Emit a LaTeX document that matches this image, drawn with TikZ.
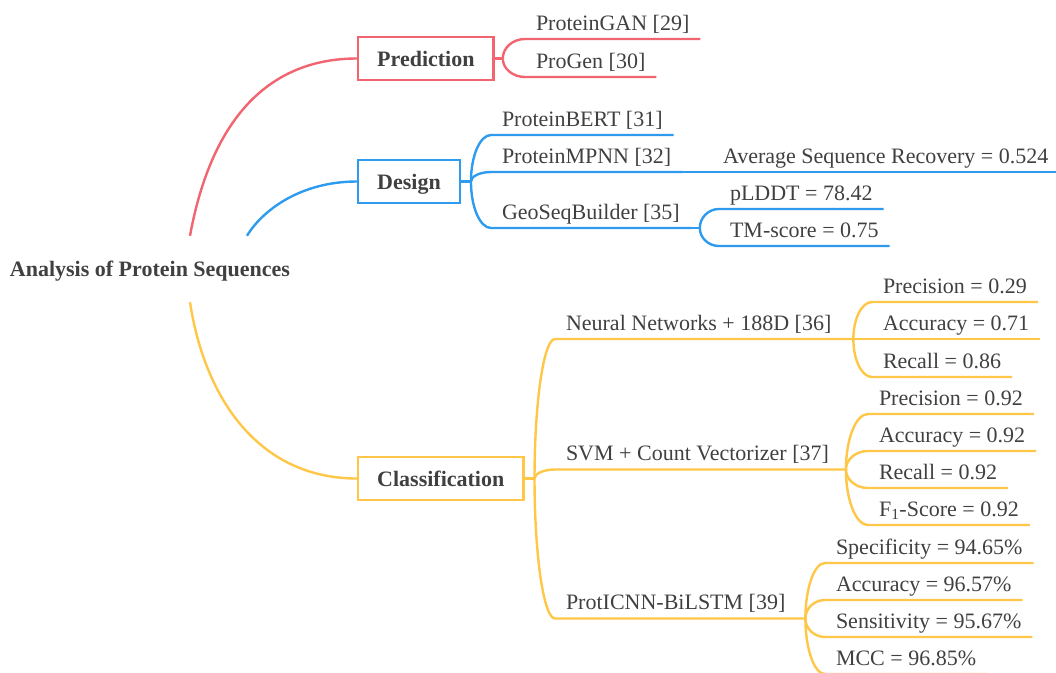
\documentclass[tikz,border=0pt]{standalone}
\usepackage{fontspec}
\setmainfont{Liberation Serif}
\usetikzlibrary{calc}
\definecolor{predcol}{HTML}{F2646F}
\definecolor{descol}{HTML}{2E9BEF}
\definecolor{clscol}{HTML}{FFC747}
\definecolor{txtcol}{HTML}{404040}

\tikzset{
  box/.style={draw, line width=2.4pt, fill=white, text=txtcol,
    font=\fontsize{22}{26}\selectfont\bfseries,
    text height=15pt, text depth=0pt, minimum height=43pt, inner xsep=19pt, anchor=west},
  leaf/.style={text=txtcol, font=\fontsize{22}{26}\selectfont,
    text height=16pt, text depth=5pt, inner xsep=11pt, inner ysep=4pt, outer sep=0pt, anchor=south west},
  branch/.style={line width=2.4pt},
  twig/.style={to path={.. controls ($(\tikztostart)!.55!(\tikztostart |- \tikztotarget)$)
    and ($(\tikztotarget)!.55!(\tikztostart |- \tikztotarget)$) .. (\tikztotarget) \tikztonodes}}
}

\begin{document}
\begin{tikzpicture}[x=1pt,y=-1pt]
\useasboundingbox (0,0) rectangle (1056,672);

% root and main branches
\node (root) [text=txtcol, font=\fontsize{22}{26}\selectfont\bfseries, text height=14pt, text depth=0pt, minimum height=66pt] at (150,269) {Analysis of Protein Sequences};
\node (pred) [box, draw=predcol] at (357,58.5) {Prediction};
\node (des) [box, draw=descol] at (357,181.5) {Design};
\node (cls) [box, draw=clscol] at (357,478.5) {Classification};

\draw[branch,predcol] ([xshift=40pt]root.north) .. controls +(22,-120) and +(-86,0) .. (pred.west);
\draw[branch,descol] ([xshift=97pt]root.north) .. controls +(15,-25) and +(-57,0) .. (des.west);
\draw[branch,clscol] ([xshift=40pt]root.south) .. controls +(15,98) and +(-97,0) .. (cls.west);

% prediction
\node (gan) [leaf] at (525,39) {ProteinGAN [29]};
\node (progen) [leaf] at (525,77) {ProGen [30]};
\coordinate (pj) at ([xshift=8pt]pred.east);
\draw[branch,predcol] (pred.east) -- (pj);
\foreach \n in {gan,progen}
  \draw[branch,predcol] (pj) to[twig] (\n.south west) -- (\n.south east);

% design
\node (bert) [leaf] at (491,135) {ProteinBERT [31]};
\node (mpnn) [leaf] at (491,172) {ProteinMPNN [32]};
\node (geo) [leaf] at (491,228) {GeoSeqBuilder [35]};
\node (asr) [leaf] at (712,172) {Average Sequence Recovery = 0.524};
\node (plddt) [leaf] at (719,209) {pLDDT = 78.42};
\node (tm) [leaf] at (719,246) {TM-score = 0.75};
\coordinate (dj) at ([xshift=10pt]des.east);
\coordinate (geoj) at ([xshift=9pt]geo.south east);
\draw[branch,descol] (des.east) -- (dj);
\foreach \n in {bert,mpnn,geo}
  \draw[branch,descol] (dj) to[twig] (\n.south west) -- (\n.south east);
\draw[branch,descol] (mpnn.south east) -- (asr.south west) -- (asr.south east);
\draw[branch,descol] (geo.south east) -- (geoj);
\foreach \n in {plddt,tm}
  \draw[branch,descol] (geoj) to[twig] (\n.south west) -- (\n.south east);

% classification
\node (nn) [leaf] at (555,339) {Neural Networks + 188D [36]};
\node (svm) [leaf] at (555,469.5) {SVM + Count Vectorizer [37]};
\node (prot) [leaf] at (555,618.5) {ProtICNN-BiLSTM [39]};
\coordinate (cj) at ([xshift=10pt]cls.east);
\coordinate (nnj) at ([xshift=11pt]nn.south east);
\coordinate (svmj) at ([xshift=6pt]svm.south east);
\coordinate (protj) at ([xshift=9pt]prot.south east);
\draw[branch,clscol] (cls.east) -- (cj);
\foreach \n/\j in {nn/nnj,svm/svmj,prot/protj}
  \draw[branch,clscol] (cj) to[twig] (\n.south west) -- (\j);

\node (pre1) [leaf] at (872,302) {Precision = 0.29};
\node (acc1) [leaf] at (872,339) {Accuracy = 0.71};
\node (rec1) [leaf] at (872,377) {Recall = 0.86};
\foreach \n in {pre1,acc1,rec1}
  \draw[branch,clscol] (nnj) to[twig] (\n.south west) -- (\n.south east);

\node (pre2) [leaf] at (868,414) {Precision = 0.92};
\node (acc2) [leaf] at (868,451) {Accuracy = 0.92};
\node (rec2) [leaf] at (868,488) {Recall = 0.92};
\node (fsc2) [leaf] at (868,525) {F\textsubscript{1}-Score = 0.92};
\foreach \n in {pre2,acc2,rec2,fsc2}
  \draw[branch,clscol] (svmj) to[twig] (\n.south west) -- (\n.south east);

\node (spe3) [leaf] at (825,563) {Specificity = 94.65\%};
\node (acc3) [leaf] at (825,600) {Accuracy = 96.57\%};
\node (sen3) [leaf] at (825,637) {Sensitivity = 95.67\%};
\node (mcc3) [leaf] at (825,674) {MCC = 96.85\%};
\foreach \n in {spe3,acc3,sen3,mcc3}
  \draw[branch,clscol] (protj) to[twig] (\n.south west) -- (\n.south east);
\end{tikzpicture}
\end{document}
